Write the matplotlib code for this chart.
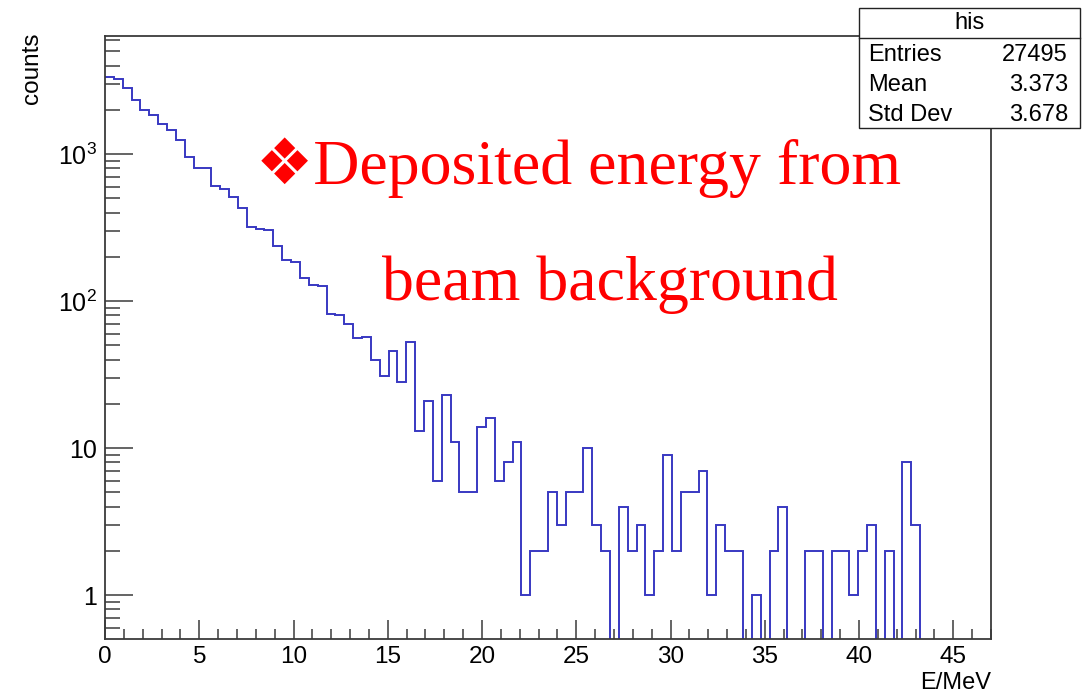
import numpy as np
import matplotlib
matplotlib.use("Agg")
import matplotlib.pyplot as plt
from matplotlib.patches import Rectangle
from matplotlib.lines import Line2D
from matplotlib.ticker import FixedLocator, FixedFormatter, LogLocator, MultipleLocator, NullFormatter

plt.rcParams['font.family'] = ['Liberation Sans', 'DejaVu Sans']
plt.rcParams['mathtext.fontset'] = 'custom'
plt.rcParams['mathtext.rm'] = 'Liberation Sans'
plt.rcParams['mathtext.it'] = 'Liberation Sans:italic'

# histogram "his": 100 bins between 0 and 47 MeV
e_min, e_max, n_bins = 0.0, 47.0, 100
counts = [
    3360, 3222, 2825, 2318, 1992, 1842, 1592, 1456, 1245, 950,
    800, 800, 609, 578, 512, 427, 320, 309, 304, 237,
    190, 185, 144, 128, 127, 82, 80, 70, 56, 57,
    40, 31, 46, 28, 53, 13, 21, 6, 23, 11,
    5, 5, 14, 16, 6, 8, 11, 1, 2, 2,
    5, 3, 5, 5, 10, 3, 2, 0, 4, 2,
    3, 1, 2, 9, 2, 5, 5, 7, 1, 3,
    2, 2, 0, 1, 0, 2, 4, 0, 0, 2,
    2, 0, 2, 2, 1, 2, 3, 0, 2, 0,
    8, 3, 0, 0, 0, 0, 0, 0, 0, 0,
]
stats_title = "his"
stats_rows = [("Entries", "27495"), ("Mean", "3.373"), ("Std Dev", "3.678")]

y_ticks = [1, 10, 100, 1000]
y_ticklabels = ["1", "10", "$10^{2}$", "$10^{3}$"]

W, H = 1089, 695
fig = plt.figure(figsize=(W / 100, H / 100), dpi=100)

def fx(px):
    return px / W

def fy(py):
    return 1 - py / H

ax = fig.add_axes([fx(105), fy(639), fx(991) - fx(105), fy(36) - fy(639)])

edges = np.linspace(e_min, e_max, n_bins + 1)
vals = np.array(counts, dtype=float)
# empty bins drop to the bottom of the frame like in ROOT
vals_plot = np.where(vals > 0, vals, 1e-3)
ax.stairs(vals_plot, edges, color='#3838c2', linewidth=1.4, baseline=None)

ax.set_yscale('log')
ax.set_xlim(e_min, e_max)
ax.set_ylim(0.502, 6350)

ax.yaxis.set_major_locator(FixedLocator(y_ticks))
ax.yaxis.set_major_formatter(FixedFormatter(y_ticklabels))
ax.yaxis.set_minor_locator(LogLocator(base=10, subs=np.arange(2, 10), numticks=20))
ax.yaxis.set_minor_formatter(NullFormatter())
ax.xaxis.set_major_locator(MultipleLocator(5))
ax.xaxis.set_minor_locator(MultipleLocator(1))

frame_c = '#3a3a3a'
for s in ax.spines.values():
    s.set_color(frame_c)
    s.set_linewidth(1.3)

ax.tick_params(axis='both', which='both', direction='in', color=frame_c,
               width=1.1, top=False, right=False)
ax.tick_params(axis='y', which='major', length=20, pad=6, labelsize=18)
ax.tick_params(axis='y', which='minor', length=11)
ax.tick_params(axis='x', which='major', length=14, pad=5, labelsize=17.5)
ax.tick_params(axis='x', which='minor', length=7.5)

fig.text(fx(32), fy(32), "counts", rotation=90, ha='center', va='top', fontsize=17.5)
fig.text(fx(991), fy(683), "E/MeV", ha='right', va='center', fontsize=17)

# annotation in red serif
serif = ['Liberation Serif', 'DejaVu Sans']
fig.text(fx(256), fy(184), "\u2756Deposited energy from", color='red',
         fontsize=46, family=serif, ha='left', va='baseline')
fig.text(fx(382), fy(300), "beam background", color='red',
         fontsize=46, family=serif, ha='left', va='baseline')

# statistics box
bx0, bx1, by0, by1 = 859, 1080, 8, 128
fig.add_artist(Rectangle((fx(bx0), fy(by1)), fx(bx1) - fx(bx0), fy(by0) - fy(by1),
                         transform=fig.transFigure, facecolor='white',
                         edgecolor='#222222', linewidth=1.0, zorder=5))
fig.add_artist(Line2D([fx(bx0), fx(bx1)], [fy(38), fy(38)], transform=fig.transFigure,
                      color='#222222', linewidth=1.0, zorder=6))
fig.text((fx(bx0) + fx(bx1)) / 2, fy(23), stats_title, ha='center', va='center',
         fontsize=17, zorder=7)
for i, (name, val) in enumerate(stats_rows):
    yy = fy(55 + 30 * i)
    fig.text(fx(868), yy, name, ha='left', va='center', fontsize=17, zorder=7)
    fig.text(fx(1068), yy, val, ha='right', va='center', fontsize=17, zorder=7)

fig.savefig("out.png", dpi=100)
